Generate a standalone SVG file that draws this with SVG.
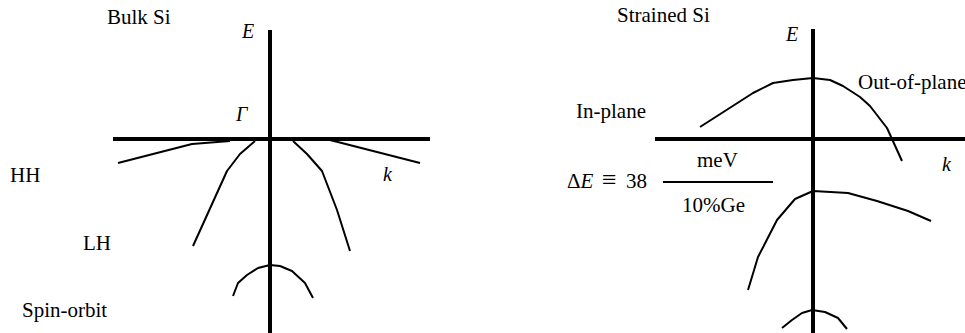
<svg xmlns="http://www.w3.org/2000/svg" width="965" height="333" viewBox="0 0 965 333">
<style>
.t{font-family:'Liberation Serif','DejaVu Serif',serif;font-size:21px;fill:#000}
.it{font-style:italic}
.axis{stroke:#000;stroke-width:4;fill:none}
.curve{stroke:#000;stroke-width:2;fill:none;stroke-linejoin:round}
</style>
<rect width="965" height="333" fill="#fff"/>
<g id="bulk-labels" class="t" font-family="Liberation Serif, DejaVu Serif, serif">
<text x="107" y="24">Bulk Si</text>
<text class="it" x="242" y="38" font-size="20">E</text>
<text class="it" x="236" y="121" font-size="20">Γ</text>
<text x="10" y="182">HH</text>
<text class="it" x="383" y="181" font-size="20">k</text>
<text x="83" y="250">LH</text>
<text x="22" y="317">Spin-orbit</text>
</g>
<g id="bulk-axes">
<line class="axis" x1="270" y1="30" x2="270" y2="333"/>
<line class="axis" x1="113" y1="139" x2="430" y2="139"/>
</g>
<g id="bulk-curves">
<polyline class="curve" points="118,163 192,144 230,141"/>
<polyline class="curve" points="330,140 420,163"/>
<polyline class="curve" points="193,246 227,171 240,154 255,141"/>
<polyline class="curve" points="293,141 307,154 322,171 337,210 350,251"/>
<polyline class="curve" points="233,296 238,283 247,275 258,268 270,265 280,266 292,271 305,283 313,298"/>
</g>
<g id="strained-labels" class="t" font-family="Liberation Serif, DejaVu Serif, serif">
<text x="617" y="22">Strained Si</text>
<text class="it" x="786" y="41" font-size="20">E</text>
<text x="858" y="89">Out-of-plane</text>
<text x="576" y="118">In-plane</text>
<text x="697" y="167">meV</text>
<text x="567" y="188">Δ<tspan class="it">E</tspan><tspan x="602" font-size="26">≡</tspan><tspan x="626">38</tspan></text>
<text x="682" y="212">10%Ge</text>
<text class="it" x="942" y="171" font-size="20">k</text>
<line x1="663" y1="182" x2="773" y2="182" stroke="#000" stroke-width="2"/>
</g>
<g id="strained-axes">
<line class="axis" x1="813" y1="29" x2="813" y2="333"/>
<line class="axis" x1="655" y1="139" x2="965" y2="139"/>
</g>
<g id="strained-curves">
<polyline class="curve" points="700,127 753,93 773,83 793,80 813,78 830,80 843,86 860,97 870,106 887,128 902,161"/>
<polyline class="curve" points="748,290 758,257 777,220 795,199 813,191 848,193 877,201 908,211 931,221"/>
<polyline class="curve" points="782,328 792,320 802,313 812,310 825,312 838,318 847,329"/>
</g>
</svg>
